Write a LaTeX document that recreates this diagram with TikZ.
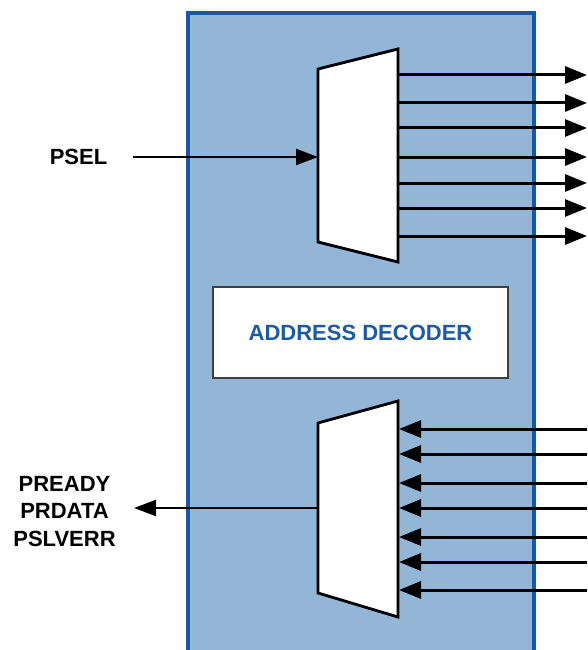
\documentclass[tikz,border=0pt]{standalone}
\usepackage{fontspec}
\setmainfont{Liberation Sans}
\usetikzlibrary{arrows.meta}
\definecolor{boxfill}{HTML}{93B6D7}
\definecolor{boxline}{HTML}{1458A8}
\definecolor{dectext}{HTML}{1A5AA8}
\definecolor{decline}{HTML}{404040}
\tikzset{
  mux/.style={draw=black, fill=white, line width=2.8pt, line join=miter},
  sig/.style={line width=3pt, -{Triangle[length=22pt,width=17pt]}},
  thin sig/.style={line width=2pt, -{Triangle[length=22pt,width=16pt]}},
  lbl/.style={font=\bfseries\fontsize{22}{27.5}\selectfont, align=center, inner sep=0pt},
}
\begin{document}
\begin{tikzpicture}[x=1pt,y=-1pt]
\useasboundingbox (0,0) rectangle (587,650);
\begin{scope}
\clip (0,0) rectangle (587,650);
\draw[fill=boxfill, draw=boxline, line width=4pt] (188,13) rectangle (534,670);
\end{scope}
% decoder
\node[draw=decline, fill=white, line width=2pt, minimum width=295pt, minimum height=91pt,
      font=\bfseries\fontsize{22}{26}\selectfont, text=dectext] (dec) at (360.5,332.5) {ADDRESS DECODER};
% top mux
\draw[mux] (318,69) -- (398,49) -- (398,262) -- (318,242) -- cycle;
\coordinate (muxAin) at (318,157);
% bottom mux
\draw[mux] (318,423) -- (398,401) -- (398,617) -- (318,593) -- cycle;
\coordinate (muxBout) at (318,508);
% labels
\node[lbl] (psel) at (78.5,157) {PSEL};
\node[lbl] (rsp) at (64.5,511.5) {PREADY\\PRDATA\\PSLVERR};
\coordinate (pselS) at (133,157);
\coordinate (rspE) at (134,508);
\draw[thin sig] (pselS) -- (muxAin);
\draw[thin sig] (muxBout) -- (rspE);
% outputs
\foreach \y [count=\i] in {75,103,128,157,183,208,236} {
  \coordinate (oa\i) at (398,\y);
  \coordinate (ob\i) at (587,\y);
  \draw[sig] (oa\i) -- (ob\i);
}
% inputs
\foreach \y [count=\i] in {429,454,483,508,537,562,590} {
  \coordinate (ia\i) at (587,\y);
  \coordinate (ib\i) at (399,\y);
  \draw[sig] (ia\i) -- (ib\i);
}
\end{tikzpicture}
\end{document}
